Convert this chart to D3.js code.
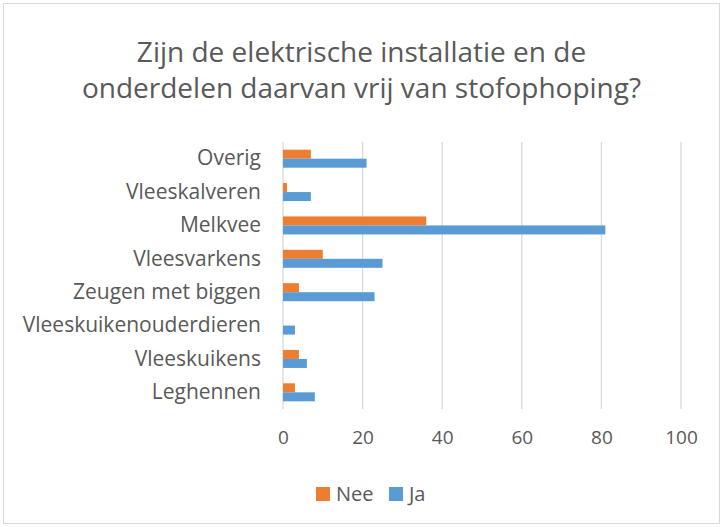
<!DOCTYPE html>
<html>
<head>
<meta charset="utf-8">
<script src="https://cdn.jsdelivr.net/npm/d3@7"></script>
<style>
  body { margin: 0; background: #fff; }
  svg text { font-family: "Open Sans", "Noto Sans", sans-serif; fill: #595959; }
</style>
</head>
<body>
<svg id="chart"></svg>
<script>
const categories = ["Overig", "Vleeskalveren", "Melkvee", "Vleesvarkens", "Zeugen met biggen",
  "Vleeskuikenouderdieren", "Vleeskuikens", "Leghennen"];
const seriesNames = ["Nee", "Ja"];
const neeValues = [7, 1, 36, 10, 4, 0, 4, 3];
const jaValues  = [21, 7, 81, 25, 23, 3, 6, 8];
const xTicks = [0, 20, 40, 60, 80, 100];
const titleLines = ["Zijn de elektrische installatie en de", "onderdelen daarvan vrij van stofophoping?"];
const COLORS = { Nee: "#ed7d31", Ja: "#5b9bd5" };

const W = 723, H = 527;
const M = { top: 142, right: 42, bottom: 118, left: 283 };
const innerW = W - M.left - M.right;
const innerH = H - M.top - M.bottom;

const svg = d3.select("#chart").attr("width", W).attr("height", H);

svg.append("rect")
  .attr("x", 3.5).attr("y", 3.5)
  .attr("width", W - 7).attr("height", H - 7)
  .attr("fill", "#fff").attr("stroke", "#d9d9d9");

svg.append("text")
  .attr("text-anchor", "middle")
  .attr("font-size", 28)
  .selectAll("tspan")
  .data(titleLines)
  .join("tspan")
    .attr("x", W / 2)
    .attr("y", (d, i) => 62 + i * 36)
    .text(d => d);

const g = svg.append("g").attr("transform", `translate(${M.left},${M.top})`);

const x = d3.scaleLinear().domain([0, 100]).range([0, innerW]);
const y = d3.scaleBand().domain(categories).range([0, innerH]).paddingInner(0.46).paddingOuter(0.23);
const sub = d3.scaleBand().domain(seriesNames).range([0, y.bandwidth()]);

g.append("g")
  .selectAll("line")
  .data(xTicks)
  .join("line")
    .attr("x1", d => x(d)).attr("x2", d => x(d))
    .attr("y1", 0).attr("y2", innerH)
    .attr("stroke", "#d9d9d9").attr("stroke-width", 1.3);

const rows = categories.map((c, i) => ({ c, Nee: neeValues[i], Ja: jaValues[i] }));

g.append("g")
  .selectAll("g")
  .data(rows)
  .join("g")
    .attr("transform", d => `translate(0,${y(d.c)})`)
  .selectAll("rect")
  .data(d => seriesNames.map(s => ({ s, v: d[s] })))
  .join("rect")
    .attr("x", 0)
    .attr("y", d => sub(d.s))
    .attr("height", sub.bandwidth())
    .attr("width", d => x(d.v))
    .attr("fill", d => COLORS[d.s]);

g.append("g")
  .attr("transform", `translate(0,${innerH})`)
  .call(d3.axisBottom(x).tickValues(xTicks).tickSize(0).tickPadding(22))
  .call(ax => ax.select(".domain").remove())
  .selectAll("text")
    .attr("font-size", 19);

g.append("g")
  .call(d3.axisLeft(y).tickSize(0).tickPadding(22))
  .call(ax => ax.select(".domain").remove())
  .selectAll("text")
    .attr("font-size", 21);

svg.selectAll(".tick text").attr("fill", "#595959").style("font-family", "'Open Sans', sans-serif");

const legend = svg.append("g").attr("transform", "translate(316,487)");
const items = legend.selectAll("g")
  .data(seriesNames)
  .join("g")
    .attr("transform", (d, i) => `translate(${i * 73},0)`);
items.append("rect")
  .attr("width", 14).attr("height", 14)
  .attr("fill", d => COLORS[d]);
items.append("text")
  .attr("x", 20).attr("y", 14)
  .attr("font-size", 20)
  .text(d => d);
</script>
</body>
</html>
